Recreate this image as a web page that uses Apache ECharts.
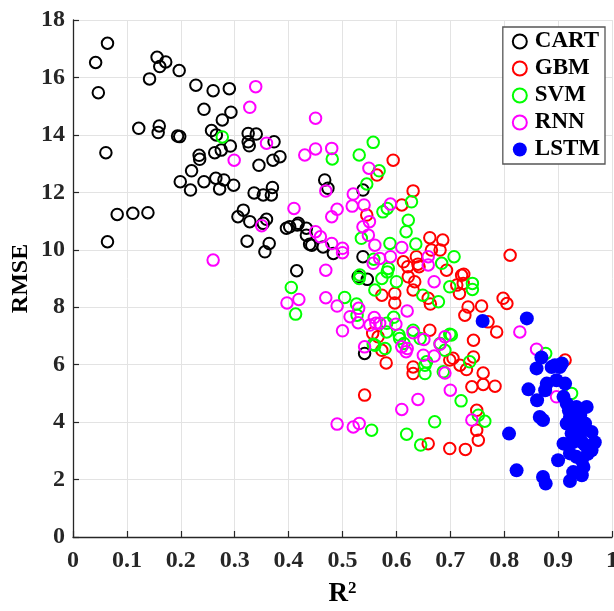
<!DOCTYPE html>
<html>
<head>
<meta charset="utf-8">
<script src="https://cdn.jsdelivr.net/npm/echarts@6/dist/echarts.min.js"></script>
<style>
html,body{margin:0;padding:0;background:#fff;}
#chart{width:614px;height:611px;}
</style>
</head>
<body>
<div id="chart"></div>
<script>
// ---- Data (R^2, RMSE) ----
const seriesNames = ['CART', 'GBM', 'SVM', 'RNN', 'LSTM'];
const xTicks = [0, 0.1, 0.2, 0.3, 0.4, 0.5, 0.6, 0.7, 0.8, 0.9, 1];
const yTicks = [0, 2, 4, 6, 8, 10, 12, 14, 16, 18];

const cartData = [
  [0.042,16.52],[0.064,17.19],[0.047,15.47],[0.061,13.38],[0.156,16.70],[0.161,16.38],[0.172,16.54],
  [0.142,15.95],[0.197,16.24],[0.228,15.73],[0.260,15.54],[0.290,15.61],[0.243,14.89],[0.293,14.79],
  [0.277,14.52],[0.122,14.23],[0.160,14.31],[0.158,14.08],[0.194,13.96],[0.198,13.94],[0.257,14.15],
  [0.266,14.00],[0.292,13.61],[0.234,13.29],[0.235,13.15],[0.263,13.38],[0.275,13.47],[0.220,12.75],
  [0.199,12.37],[0.218,12.08],[0.243,12.37],[0.265,12.49],[0.272,12.12],[0.280,12.43],[0.298,12.25],
  [0.336,11.98],[0.325,14.05],[0.340,14.03],[0.327,13.62],[0.325,13.76],[0.345,12.94],[0.064,10.28],
  [0.082,11.23],[0.111,11.27],[0.139,11.29],[0.373,13.76],[0.384,13.24],[0.371,13.12],[0.353,11.91],
  [0.370,12.17],[0.368,11.91],[0.316,11.38],[0.306,11.15],[0.328,10.98],[0.359,11.06],[0.353,10.92],
  [0.323,10.30],[0.364,10.22],[0.356,9.93],[0.415,9.27],[0.396,10.75],[0.416,10.86],[0.433,10.51],
  [0.439,10.19],[0.467,12.43],[0.473,12.14],[0.464,10.10],[0.538,9.76],[0.402,10.80],[0.418,10.92],
  [0.433,10.75],[0.443,10.16],[0.483,9.87],[0.529,9.06],[0.546,8.97],[0.541,6.39],[0.538,12.08]
];

const gbmData = [
  [0.594,13.12],[0.564,12.60],[0.631,12.05],[0.610,11.56],[0.662,10.42],[0.686,10.34],[0.681,9.99],
  [0.665,9.99],[0.640,9.50],[0.613,9.58],[0.622,9.06],[0.634,8.89],[0.545,11.21],[0.725,9.15],
  [0.712,8.77],[0.642,9.41],[0.693,9.29],[0.721,9.11],[0.724,8.83],[0.717,8.48],[0.597,8.48],
  [0.573,8.42],[0.663,8.11],[0.733,8.01],[0.758,8.04],[0.727,7.72],[0.786,7.14],[0.743,6.85],
  [0.662,7.20],[0.705,6.22],[0.730,5.83],[0.761,5.71],[0.581,6.06],[0.566,6.97],[0.573,6.50],
  [0.631,5.92],[0.597,8.15],[0.556,7.09],[0.718,5.98],[0.699,6.16],[0.743,6.27],[0.740,5.23],
  [0.761,5.31],[0.783,5.25],[0.541,4.94],[0.749,3.72],[0.752,3.37],[0.659,3.25],[0.699,3.08],
  [0.728,3.05],[0.749,4.41],[0.811,9.81],[0.798,8.31],[0.805,8.13],[0.770,7.49],[0.913,6.16],
  [0.637,9.76],[0.621,9.41],[0.631,8.60],[0.659,8.31],[0.631,5.69]
];

const svmData = [
  [0.277,13.93],[0.557,13.74],[0.531,13.30],[0.481,13.16],[0.568,12.75],[0.545,12.29],[0.575,11.32],
  [0.583,11.44],[0.535,10.40],[0.588,10.22],[0.532,9.12],[0.583,9.23],[0.628,11.67],[0.622,11.03],
  [0.618,10.63],[0.636,10.20],[0.707,9.76],[0.684,9.53],[0.531,9.00],[0.573,9.00],[0.600,8.89],
  [0.585,9.35],[0.699,8.71],[0.741,8.83],[0.558,9.67],[0.560,8.60],[0.649,8.42],[0.678,8.19],
  [0.741,8.62],[0.405,8.69],[0.413,7.76],[0.504,8.34],[0.526,8.11],[0.527,7.72],[0.582,7.44],
  [0.595,7.65],[0.605,7.03],[0.614,6.74],[0.681,6.74],[0.699,7.06],[0.736,6.10],[0.557,6.71],
  [0.656,6.10],[0.687,5.75],[0.560,6.68],[0.579,6.56],[0.582,7.14],[0.606,6.91],[0.631,7.20],
  [0.644,6.91],[0.653,5.98],[0.653,5.69],[0.702,7.03],[0.690,6.50],[0.720,4.74],[0.671,4.01],
  [0.619,3.58],[0.645,3.20],[0.554,3.72],[0.752,4.24],[0.764,4.03],[0.877,6.39],[0.925,5.00]
];

const rnnData = [
  [0.339,15.68],[0.328,14.96],[0.450,14.58],[0.359,13.71],[0.299,13.12],[0.430,13.30],[0.450,13.51],
  [0.480,13.53],[0.549,12.84],[0.469,12.05],[0.520,11.94],[0.518,11.52],[0.540,11.56],[0.589,11.59],
  [0.410,11.44],[0.490,11.41],[0.480,11.15],[0.538,10.80],[0.550,10.98],[0.350,10.84],[0.450,10.63],
  [0.459,10.45],[0.480,10.22],[0.500,10.05],[0.500,9.90],[0.560,10.16],[0.548,10.51],[0.260,9.64],
  [0.469,9.29],[0.569,9.70],[0.589,9.76],[0.557,9.53],[0.610,10.08],[0.659,9.76],[0.659,9.47],
  [0.670,8.89],[0.397,8.15],[0.419,8.27],[0.469,8.33],[0.490,8.04],[0.514,7.67],[0.530,7.96],
  [0.529,7.46],[0.559,7.64],[0.562,7.44],[0.551,7.38],[0.569,7.44],[0.599,7.41],[0.620,7.87],
  [0.500,7.18],[0.631,7.11],[0.651,6.88],[0.690,6.97],[0.681,6.71],[0.541,6.62],[0.610,6.62],
  [0.620,6.56],[0.618,6.45],[0.650,6.33],[0.670,6.30],[0.690,5.71],[0.700,5.11],[0.640,4.79],
  [0.610,4.44],[0.490,3.93],[0.520,3.83],[0.531,3.95],[0.740,4.07],[0.829,7.14],[0.860,6.54],
  [0.897,4.88]
];

const lstmData = [
  [0.760,7.52],[0.842,7.61],[0.869,6.25],[0.860,5.87],[0.894,5.98],[0.903,5.92],[0.888,5.92],
  [0.907,6.04],[0.845,5.14],[0.861,4.76],[0.879,5.34],[0.876,5.11],[0.897,5.46],[0.913,5.34],
  [0.910,4.88],[0.916,4.65],[0.866,4.18],[0.872,4.07],[0.934,4.53],[0.953,4.53],[0.922,4.18],
  [0.941,4.24],[0.916,3.95],[0.931,3.89],[0.944,3.72],[0.962,3.66],[0.910,3.25],[0.928,3.31],
  [0.944,3.31],[0.962,3.02],[0.809,3.60],[0.900,2.67],[0.922,2.91],[0.934,2.79],[0.944,2.67],
  [0.947,2.44],[0.928,2.26],[0.944,2.15],[0.823,2.32],[0.872,2.09],[0.877,1.86],[0.922,1.95],
  [0.941,4.40],[0.950,3.95],[0.925,3.60],[0.940,3.50],[0.950,3.20],[0.920,4.40],[0.935,4.00],
  [0.955,2.90],[0.968,3.30]
];

const seriesData = [cartData, gbmData, svmData, rnnData, lstmData];
const seriesColors = ['#000000', '#ff0000', '#00ff00', '#ff00ff', '#0000ff'];
const filled = [false, false, false, false, true];

const FONT = '"Liberation Serif", "Times New Roman", serif';
const AXIS_COLOR = '#262626';

const chart = echarts.init(document.getElementById('chart'), null, {renderer: 'canvas'});

const series = seriesNames.map((name, i) => ({
  name: name,
  type: 'scatter',
  data: seriesData[i],
  symbol: 'circle',
  symbolSize: filled[i] ? 14 : 11.5,
  itemStyle: filled[i]
    ? {color: seriesColors[i], opacity: 1}
    : {color: 'rgba(255,255,255,0)', borderColor: seriesColors[i], borderWidth: 2, opacity: 1},
  emphasis: {disabled: true},
  z: 2 + i
}));

const option = {
  animation: false,
  backgroundColor: '#ffffff',
  grid: {left: 73, right: 2, top: 20, bottom: 74, containLabel: false, outerBoundsMode: 'none'},
  xAxis: {
    type: 'value',
    min: xTicks[0], max: xTicks[xTicks.length - 1], interval: 0.1,
    name: 'R{sup|2}',
    nameLocation: 'middle',
    nameGap: 43,
    nameMoveOverlap: false,
    nameTextStyle: {
      fontFamily: FONT, fontWeight: 'bold', fontSize: 27, color: '#000',
      rich: {sup: {fontFamily: FONT, fontWeight: 'bold', fontSize: 17, verticalAlign: 'top', padding: [0,0,12,0], color: '#000'}}
    },
    axisLine: {show: true, onZero: false, lineStyle: {color: AXIS_COLOR, width: 1.3}},
    axisTick: {show: true, inside: true, length: 6, lineStyle: {color: AXIS_COLOR, width: 1.2}},
    axisLabel: {
      fontFamily: FONT, fontWeight: 'bold', fontSize: 24, color: '#262626', margin: 12,
      formatter: v => String(+v.toFixed(1))
    },
    splitLine: {show: true, lineStyle: {color: '#e3e3e3', width: 1}}
  },
  yAxis: {
    type: 'value',
    min: yTicks[0], max: yTicks[yTicks.length - 1], interval: 2,
    name: 'RMSE',
    nameLocation: 'middle',
    nameRotate: 90,
    nameGap: 40,
    nameMoveOverlap: false,
    nameTextStyle: {fontFamily: FONT, fontWeight: 'bold', fontSize: 24, color: '#000'},
    axisLine: {show: true, onZero: false, lineStyle: {color: AXIS_COLOR, width: 1.3}},
    axisTick: {show: true, inside: true, length: 6, lineStyle: {color: AXIS_COLOR, width: 1.2}},
    axisLabel: {fontFamily: FONT, fontWeight: 'bold', fontSize: 24, color: '#262626', margin: 8},
    splitLine: {show: true, lineStyle: {color: '#e3e3e3', width: 1}}
  },
  legend: {
    data: seriesNames,
    orient: 'vertical',
    right: 9,
    top: 27,
    backgroundColor: '#ffffff',
    borderColor: '#555555',
    borderWidth: 1.3,
    padding: [3, 5, 3, 9],
    itemGap: 4,
    itemWidth: 14,
    itemHeight: 14,
    icon: 'circle',
    selectedMode: false,
    textStyle: {fontFamily: FONT, fontWeight: 'bold', fontSize: 23, color: '#000', lineHeight: 23, padding: [0, 0, 0, 3]}
  },
  series: series
};

chart.setOption(option);
</script>
</body>
</html>
